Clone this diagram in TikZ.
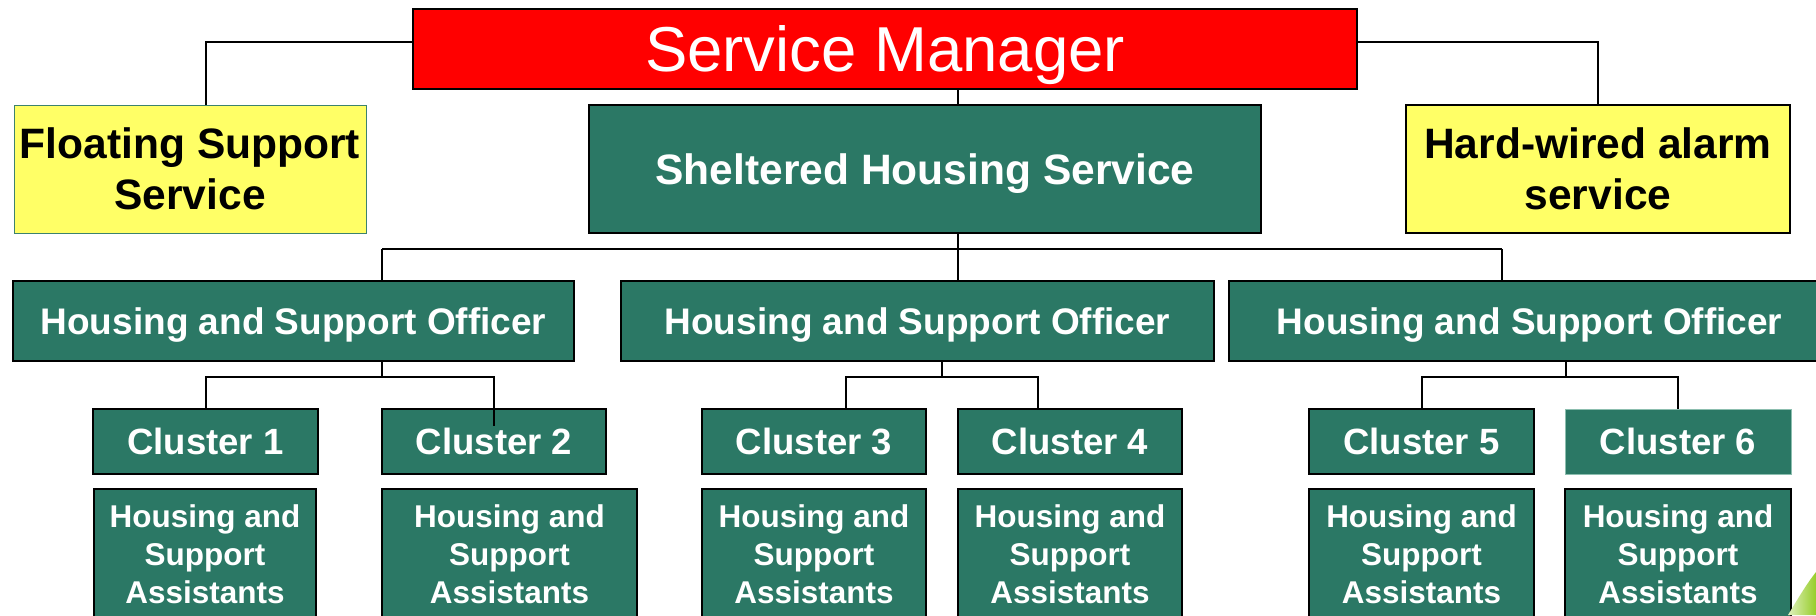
\documentclass[tikz,border=0pt]{standalone}
\usepackage{fontspec}
\setmainfont{Liberation Sans}

\definecolor{shgreen}{RGB}{43,120,101}
\definecolor{alarmyellow}{RGB}{255,255,102}
\definecolor{paleteal}{RGB}{140,190,175}
\definecolor{floatedge}{RGB}{60,130,110}
\definecolor{leafgreen}{RGB}{150,205,40}

\newcommand{\mgrfont}{\fontsize{47.6pt}{52pt}\selectfont}
\newcommand{\svcfont}{\fontsize{31.9pt}{38.25pt}\selectfont\bfseries}
\newcommand{\hsofont}{\fontsize{27.75pt}{32pt}\selectfont\bfseries}
\newcommand{\clufont}{\fontsize{27.4pt}{32pt}\selectfont\bfseries}
\newcommand{\hsafont}{\fontsize{23.6pt}{28.5pt}\selectfont\bfseries}

\tikzset{every picture/.style={line width=0.75pt}}
\tikzset{
	box/.style 2 args={rectangle, minimum width=#1*0.75pt, minimum height=#2*0.75pt,
		inner sep=0pt, outer sep=0pt, text depth=0pt, align=center, line width=1.5},
	greenbox/.style={fill=shgreen, draw=black, text=white},
	yellowbox/.style={fill=alarmyellow, draw=black, text=black, font=\svcfont},
	link/.style={draw=black, line width=1.5}
}

\begin{document}
\begin{tikzpicture}[x=0.75pt,y=0.75pt,yscale=-1,xscale=1]
	\path[use as bounding box, clip] (0,0) rectangle (1816,615);

	% Top row
	\node[box={944}{80}, fill=red, draw=black, text=white, font=\mgrfont] (mgr) at (885,49) {Service Manager};
	\node[box={352}{128}, yellowbox, draw=floatedge, line width=0.75] (float) at (190,169) {Floating Support\\Service};
	\node[box={672}{128}, greenbox, font=\svcfont] (shelter) at (925,169) {Sheltered Housing Service};
	\node[box={384}{128}, yellowbox] (alarm) at (1598,169) {Hard-wired alarm\\service};

	% Officers
	\node[box={561}{80}, greenbox, font=\hsofont] (hso1) at (293.5,321) {Housing and Support Officer};
	\node[box={593}{80}, greenbox, font=\hsofont] (hso2) at (917.5,321) {Housing and Support Officer};
	\node[box={601}{80}, greenbox, font=\hsofont] (hso3) at (1529.5,321) {Housing and Support Officer};

	% Clusters
	\node[box={225}{65}, greenbox, font=\clufont] (c1) at (205.5,441.5) {Cluster 1};
	\node[box={224}{65}, greenbox, font=\clufont] (c2) at (494,441.5) {Cluster 2};
	\node[box={224}{65}, greenbox, font=\clufont] (c3) at (814,441.5) {Cluster 3};
	\node[box={224}{65}, greenbox, font=\clufont] (c4) at (1070,441.5) {Cluster 4};
	\node[box={225}{65}, greenbox, font=\clufont] (c5) at (1421.5,441.5) {Cluster 5};
	\node[box={226}{65}, greenbox, font=\clufont, draw=paleteal, line width=0.75] (c6) at (1678,441.5) {Cluster 6};

	% Assistants
	\node[box={222}{130}, greenbox, font=\hsafont] (a1) at (205,554) {Housing and\\Support\\Assistants};
	\node[box={255}{130}, greenbox, font=\hsafont] (a2) at (509.5,554) {Housing and\\Support\\Assistants};
	\node[box={224}{130}, greenbox, font=\hsafont] (a3) at (814,554) {Housing and\\Support\\Assistants};
	\node[box={224}{130}, greenbox, font=\hsafont] (a4) at (1070,554) {Housing and\\Support\\Assistants};
	\node[box={225}{130}, greenbox, font=\hsafont] (a5) at (1421.5,554) {Housing and\\Support\\Assistants};
	\node[box={226}{130}, greenbox, font=\hsafont] (a6) at (1678,554) {Housing and\\Support\\Assistants};

	% Bus points
	\coordinate (d1) at (382,249);
	\coordinate (d2) at (958,249);
	\coordinate (d3) at (1502,249);
	\coordinate (b1) at (382,377);
	\coordinate (b2) at (942,377);
	\coordinate (b3) at (1566,377);

	% Links from the manager
	\draw[link] ([yshift=-5.25pt]mgr.west) -| ([xshift=12pt]float.north);
	\draw[link] ([yshift=-5.25pt]mgr.east) -| (alarm.north);
	\draw[link] (mgr.south -| d2) -- (shelter.north -| d2);

	% Links to the officers
	\draw[link] (shelter.south -| d2) -- (d2);
	\draw[link] (d1) -- (d3);
	\draw[link] (d1) -- (hso1.north -| d1);
	\draw[link] (d2) -- (hso2.north -| d2);
	\draw[link] (d3) -- (hso3.north -| d3);

	% Links to the clusters
	\draw[link] (hso1.south -| b1) -- (b1);
	\draw[link] (b1) -| (c1.north);
	\draw[link] (b1) -| ([yshift=12.75pt]c2.north);
	\draw[link] (hso2.south -| b2) -- (b2);
	\draw[link] (b2) -| ([xshift=24pt]c3.north);
	\draw[link] (b2) -| ([xshift=-24pt]c4.north);
	\draw[link] (hso3.south -| b3) -- (b3);
	\draw[link] (b3) -| (c5.north);
	\draw[link] (b3) -| (c6.north);

	% Corner leaf
	\shade[left color=leafgreen!30, right color=leafgreen] (1788,615) .. controls (1800,595) and (1808,582) .. (1816,572) -- (1816,615) -- cycle;
\end{tikzpicture}
\end{document}
